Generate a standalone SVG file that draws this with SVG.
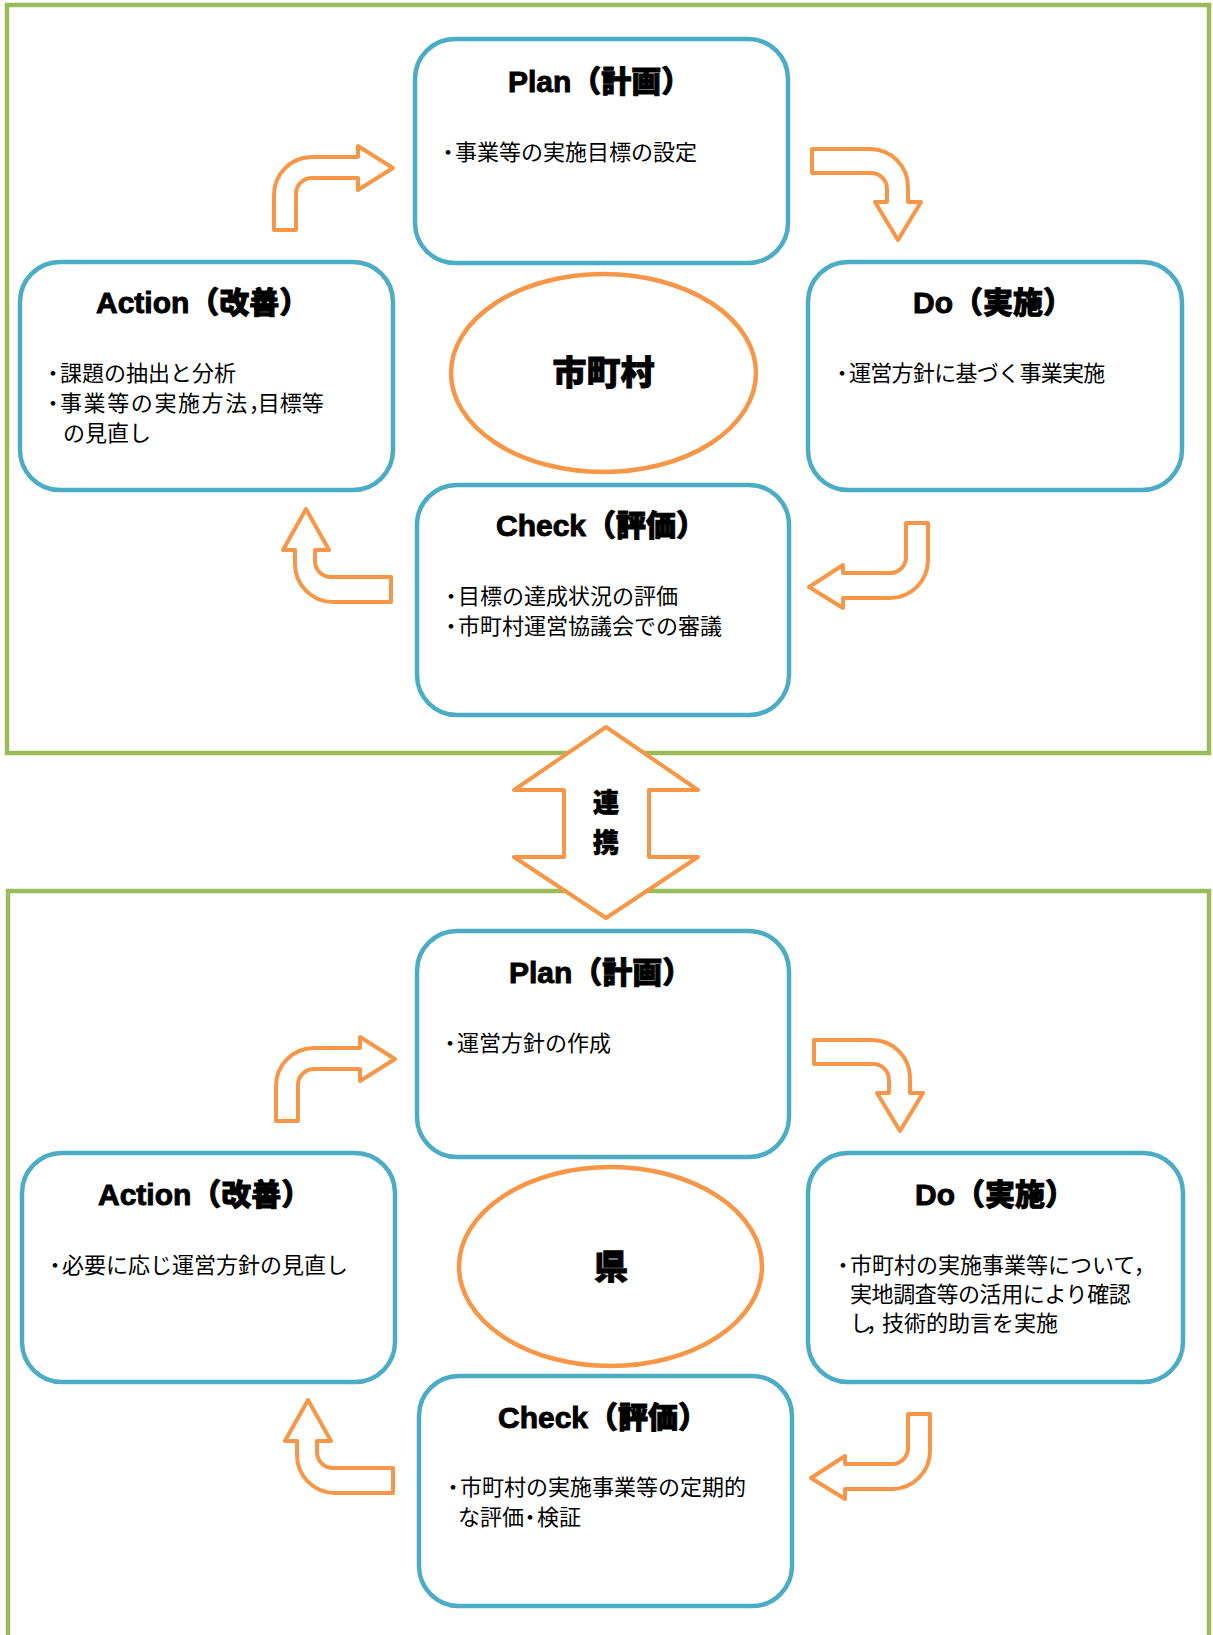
<svg xmlns="http://www.w3.org/2000/svg" width="1213" height="1635" viewBox="0 0 1213 1635">
<style>
.frame{fill:none;stroke:#9BBB59;stroke-width:4.5}
.box{fill:#fff;stroke:#4BACC6;stroke-width:4.5}
.ell{fill:#fff;stroke:#F79646;stroke-width:4.5}
.arr{fill:#fff;stroke:#F79646;stroke-width:4;stroke-linejoin:round}
.ttl{font-family:"Liberation Sans","Noto Sans CJK JP",sans-serif;font-size:30px;font-weight:900;fill:#000;stroke:#000;stroke-width:0.9}
.body{font-family:"Noto Sans CJK JP",sans-serif;font-size:22px;fill:#000}
.big{font-family:"Noto Sans CJK JP",sans-serif;font-size:34px;font-weight:900;fill:#000;stroke:#000;stroke-width:0.8;text-anchor:middle}
.mid{font-family:"Noto Sans CJK JP",sans-serif;font-size:26px;font-weight:900;fill:#000;stroke:#000;stroke-width:0.7;text-anchor:middle}
.bul{letter-spacing:-4px}
</style>
<rect width="1213" height="1635" fill="#fff"/>
<g id="frame-municipal"><rect class="frame" x="7" y="5" width="1202" height="748"/></g>
<g id="frame-prefecture"><rect class="frame" x="8" y="891" width="1201" height="760"/></g>

<g id="connectors">
  <g id="upper-arrows">
    <path class="arr" d="M274,230 L274,195 A38,38 0 0 1 312,157 L358,157 L358,146 L393,168 L358,190 L358,178 L312,178 A16,16 0 0 0 296,194 L296,230 Z"/>
    <path class="arr" d="M812,149 L870,149 A38,38 0 0 1 908,187 L908,202 L921,202 L898,240 L875,202 L887,202 L887,189 A16,16 0 0 0 871,173 L812,173 Z"/>
    <path class="arr" d="M906,523 L928,523 L928,560 A38,38 0 0 1 890,598 L843,598 L843,608 L809,587 L843,565 L843,573 L890,573 A16,16 0 0 0 906,557 Z"/>
    <path class="arr" d="M391,577 L391,602 L333,602 A38,38 0 0 1 295,564 L295,550 L283,550 L306,509 L329,550 L315,550 L315,561 A16,16 0 0 0 331,577 Z"/>
  </g>
  <g id="lower-arrows" transform="translate(2,891)">
    <path class="arr" d="M274,230 L274,195 A38,38 0 0 1 312,157 L358,157 L358,146 L393,168 L358,190 L358,178 L312,178 A16,16 0 0 0 296,194 L296,230 Z"/>
    <path class="arr" d="M812,149 L870,149 A38,38 0 0 1 908,187 L908,202 L921,202 L898,240 L875,202 L887,202 L887,189 A16,16 0 0 0 871,173 L812,173 Z"/>
    <path class="arr" d="M906,523 L928,523 L928,560 A38,38 0 0 1 890,598 L843,598 L843,608 L809,587 L843,565 L843,573 L890,573 A16,16 0 0 0 906,557 Z"/>
    <path class="arr" d="M391,577 L391,602 L333,602 A38,38 0 0 1 295,564 L295,550 L283,550 L306,509 L329,550 L315,550 L315,561 A16,16 0 0 0 331,577 Z"/>
  </g>
  <g id="renkei">
    <path class="arr" d="M606,727 L698,790 L649,790 L649,857 L698,857 L606,918 L514,857 L564,857 L564,790 L514,790 Z"/>
    <text class="mid" x="606" y="812">連</text>
    <text class="mid" x="606" y="852">携</text>
  </g>
</g>

<g id="u-plan">
  <rect class="box" x="415" y="39" width="373" height="224" rx="40"/>
  <text class="ttl" x="508" y="92">Plan（計画）</text>
  <text class="body" x="437" y="160"><tspan class="bul">・</tspan>事業等の実施目標の設定</text>
</g>
<g id="u-action">
  <rect class="box" x="20" y="262" width="373" height="228" rx="40"/>
  <text class="ttl" x="96" y="313">Action（改善）</text>
  <text class="body" x="42" y="381"><tspan class="bul">・</tspan>課題の抽出と分析</text>
  <text class="body" x="42" y="411"><tspan class="bul">・</tspan><tspan letter-spacing="1.6">事業等の実施方法</tspan><tspan letter-spacing="-13">，</tspan>目標等</text>
  <text class="body" x="63" y="441">の見直し</text>
</g>
<g id="u-do">
  <rect class="box" x="808" y="262" width="374" height="228" rx="40"/>
  <text class="ttl" x="913" y="313">Do（実施）</text>
  <text class="body" x="831" y="381"><tspan class="bul">・</tspan><tspan letter-spacing="-0.7">運営方針に基づく事業実施</tspan></text>
</g>
<g id="u-check">
  <rect class="box" x="417" y="485" width="372" height="230" rx="40"/>
  <text class="ttl" x="496" y="536">Check（評価）</text>
  <text class="body" x="440" y="604"><tspan class="bul">・</tspan>目標の達成状況の評価</text>
  <text class="body" x="440" y="634"><tspan class="bul">・</tspan>市町村運営協議会での審議</text>
</g>
<g id="u-center">
  <ellipse class="ell" cx="603.5" cy="373" rx="152.5" ry="99"/>
  <text class="big" x="603.5" y="385">市町村</text>
</g>

<g id="l-plan">
  <rect class="box" x="417" y="931" width="372" height="226" rx="40"/>
  <text class="ttl" x="509" y="983">Plan（計画）</text>
  <text class="body" x="439" y="1051"><tspan class="bul">・</tspan>運営方針の作成</text>
</g>
<g id="l-action">
  <rect class="box" x="22" y="1153" width="373" height="229" rx="40"/>
  <text class="ttl" x="98" y="1205">Action（改善）</text>
  <text class="body" x="44" y="1273"><tspan class="bul">・</tspan>必要に応じ運営方針の見直し</text>
</g>
<g id="l-do">
  <rect class="box" x="808" y="1153" width="375" height="229" rx="40"/>
  <text class="ttl" x="915" y="1205">Do（実施）</text>
  <text class="body" x="832" y="1273"><tspan class="bul">・</tspan>市町村の実施事業等について，</text>
  <text class="body" x="850" y="1302" letter-spacing="-0.4">実地調査等の活用により確認</text>
  <text class="body" x="850" y="1331"><tspan letter-spacing="-6">し</tspan><tspan letter-spacing="-6">，</tspan>技術的助言を実施</text>
</g>
<g id="l-check">
  <rect class="box" x="419" y="1376" width="373" height="230" rx="40"/>
  <text class="ttl" x="498" y="1428">Check（評価）</text>
  <text class="body" x="442" y="1495"><tspan class="bul">・</tspan>市町村の実施事業等の定期的</text>
  <text class="body" x="458" y="1525">な評<tspan letter-spacing="-5">価</tspan><tspan letter-spacing="-4">・</tspan>検証</text>
</g>
<g id="l-center">
  <ellipse class="ell" cx="610.5" cy="1266.5" rx="151.5" ry="99.5"/>
  <text class="big" x="611" y="1279">県</text>
</g>
</svg>
